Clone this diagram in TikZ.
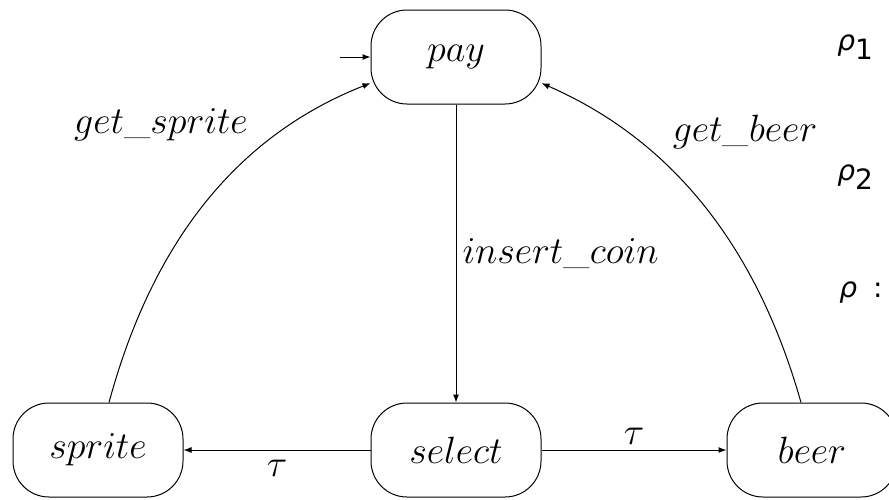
\RequirePackage{fix-cm}
\documentclass[tikz,border=0pt]{standalone}
\usepackage{fontspec}
\newfontfamily\rhofont{DejaVu Sans}
\usetikzlibrary{arrows.meta}
\tikzset{
  state/.style={draw, line width=0.5pt, rounded corners=18pt,
                minimum width=85pt, minimum height=47pt, inner sep=0pt,
                font=\fontsize{19}{23}\selectfont},
  trans/.style={-{Latex[length=4pt,width=3pt]}, line width=0.5pt},
  lbl/.style={font=\fontsize{19}{23}\selectfont, inner sep=0pt},
  rholbl/.style={anchor=base west, inner sep=0pt,
                 font=\fontsize{14}{16}\selectfont\rhofont}
}

\begin{document}
\begin{tikzpicture}[x=0.5pt,y=-0.5pt]
  \useasboundingbox (0,0) rectangle (889,499);

  % states
  \node[state] (pay)    at (456,57)  {$pay$};
  \node[state] (sprite) at (98,450)  {$sprite$};
  \node[state] (select) at (456,450) {$select$};
  \node[state] (beer)   at (812,450) {$beer$};
  \coordinate (init) at (340,57);

  % transitions
  \draw[trans] (init) -- (pay);
  \draw[trans] (pay) -- node[lbl, midway, anchor=west, xshift=3pt]
    {$insert\_coin$} (select);
  \draw[trans] (select) -- node[lbl, midway, below=5pt] {$\tau$} (sprite);
  \draw[trans] (select) -- node[lbl, midway, above=2.5pt] {$\tau$} (beer);
  \draw[trans] ([xshift=5.5pt]sprite.north)
    .. controls (155,233) and (244,133) .. (pay.197);
  \draw[trans] ([xshift=-5.5pt]beer.north)
    .. controls (755,240) and (667,138) .. (pay.-17);
  \node[lbl] (lsprite) at (161,125) {$get\_sprite$};
  \node[lbl] (lbeer)   at (745,132) {$get\_beer$};

  % runs
  \node[rholbl] (rho1) at (837,50)  {{\itshape ρ}\raisebox{-4.5pt}{1}};
  \node[rholbl] (rho2) at (837,180) {{\itshape ρ}\raisebox{-4.5pt}{2}};
  \node[rholbl] (rho)  at (839,297) {{\itshape ρ}\hspace{8pt}:};
\end{tikzpicture}
\end{document}
